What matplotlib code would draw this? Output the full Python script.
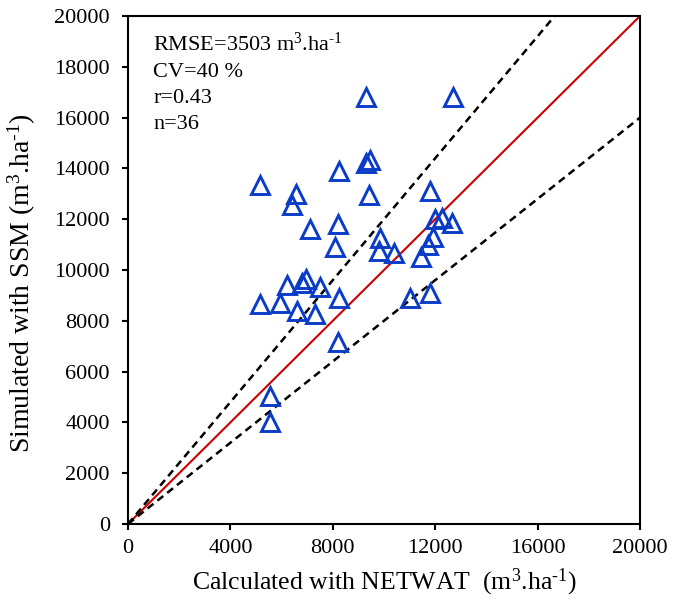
import matplotlib
matplotlib.use("Agg")
import matplotlib.pyplot as plt
import numpy as np

# Seasonal irrigation volumes (m3/ha): NETWAT calculation vs SSM simulation
netwat = [5150, 9300, 12700, 6550, 6400, 8250, 9300, 9450, 9400, 11800,
          7100, 8200, 8100, 9850, 9800, 10400, 11430, 12000, 12250, 12650,
          11900, 11700, 6200, 6800, 6950, 7500, 5150, 5950, 6600, 7300,
          8250, 8200, 11000, 11800, 5550, 5550]
ssm = [13350, 16800, 16800, 13000, 12550, 13900, 14200, 14350, 12950, 13100,
       11600, 11800, 10900, 11250, 10750, 10650, 10500, 12000, 12050, 11850,
       11300, 11000, 9400, 9500, 9650, 9350, 8650, 8700, 8400, 8250,
       8900, 7150, 8900, 9100, 5050, 4000]

unit = r"m$^{3}$.ha$^{\text{-1}}$"
stats_lines = ["RMSE=3503 " + unit, "CV=40 %", "r=0.43", "n=36"]
axis_max = 20000
ticks = [0, 4000, 8000, 12000, 16000, 20000]
yticks = list(range(0, 20001, 2000))
band = 0.20  # +/- 20 % envelope around the 1:1 line

plt.rcParams["font.family"] = ["Liberation Serif", "DejaVu Serif"]
plt.rcParams["mathtext.fontset"] = "custom"
plt.rcParams["mathtext.rm"] = "Liberation Serif"
plt.rcParams["mathtext.it"] = "Liberation Serif:italic"
plt.rcParams["mathtext.bf"] = "Liberation Serif:bold"
plt.rcParams["mathtext.default"] = "regular"

fig = plt.figure(figsize=(6.73, 6.07), dpi=100)
ax = fig.add_axes([128 / 673, 1 - 524 / 607, 512 / 673, 508 / 607])

xs = np.array([0, axis_max])
ax.plot(xs, xs, color="#CC0000", lw=1.5, zorder=2)
ax.plot([0, axis_max / (1 + band)], [0, axis_max], color="black", lw=1.8,
        ls=(0, (3, 2)), zorder=2)
ax.plot(xs, xs * (1 - band), color="black", lw=1.8, ls=(0, (3, 2)), zorder=2)

ax.plot(netwat, ssm, ls="none", marker="^", ms=12.5, mfc="none",
        mec="#0A3CC8", mew=2.1, zorder=3, clip_on=False)

ax.set_xlim(0, axis_max)
ax.set_ylim(0, axis_max)
ax.set_xticks(ticks)
ax.set_yticks(yticks)
ax.tick_params(axis="both", direction="out", length=4, width=1.5,
               labelsize=16, colors="black")
ax.tick_params(axis="x", pad=7)
ax.tick_params(axis="y", pad=9)
for s in ax.spines.values():
    s.set_linewidth(1.5)

ax.set_xlabel("Calculated with NETWAT  (" + unit + ")", fontsize=18.5,
              labelpad=6)
ax.set_ylabel("Simulated with SSM (" + unit + ")", fontsize=20)
ax.yaxis.set_label_coords(-0.176, 0.474)

for i, line in enumerate(stats_lines):
    ax.text(0.049, 0.931 - i * 0.051, line, transform=ax.transAxes,
            fontsize=16, va="baseline", ha="left")

fig.savefig("out.png", dpi=100)
